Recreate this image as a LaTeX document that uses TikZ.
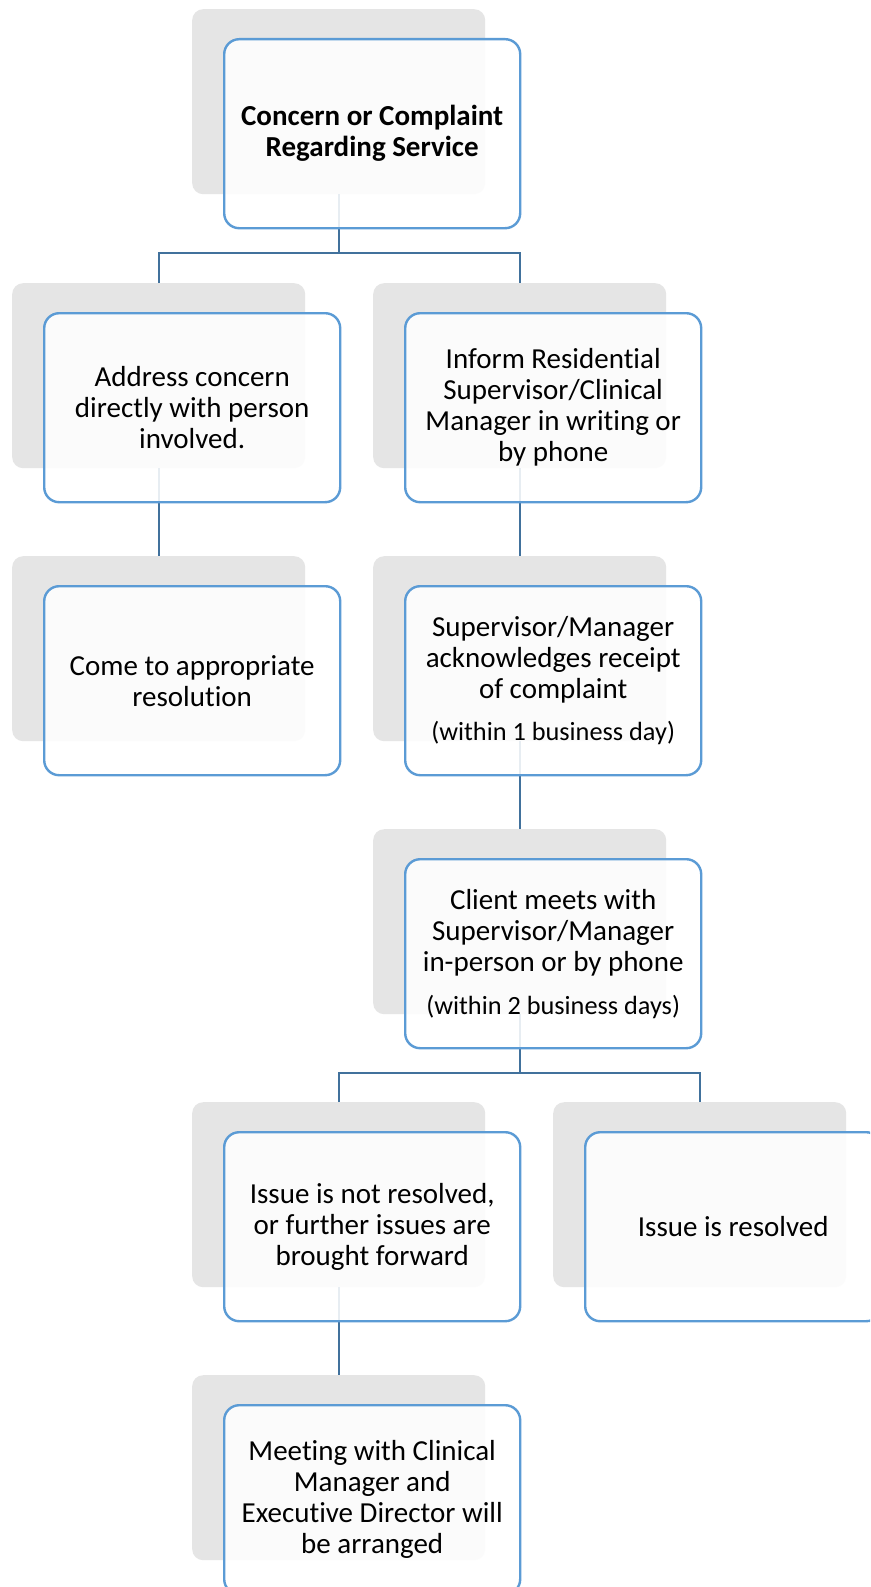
\documentclass[tikz,border=0pt]{standalone}
\usepackage{fontspec}
\setmainfont{Carlito}[Ligatures=NoCommon]
\definecolor{shadowgray}{HTML}{E5E5E5}
\definecolor{cardblue}{HTML}{5B9BD5}
\definecolor{connblue}{HTML}{41719C}
\tikzset{
  shadowbox/.style={fill=shadowgray, draw=none, rounded corners=11pt, minimum width=293pt, minimum height=185pt, anchor=north west, inner sep=0pt},
  card/.style={draw=cardblue, line width=2.4pt, fill=white, fill opacity=0.88, text opacity=1, rounded corners=15pt, minimum width=296pt, minimum height=189pt, anchor=north west, align=center, inner sep=0pt, font=\fontsize{29}{31}\selectfont},
  conn/.style={draw=connblue, line width=2.2pt},
}
\newcommand{\smalltxt}[1]{{\fontsize{26.3}{31}\selectfont #1}}
\begin{document}
\begin{tikzpicture}[x=1pt,y=-1pt]
\clip (0,0) rectangle (870,1587);
\fill[white] (0,0) rectangle (870,1587);
% shadows
\node[shadowbox] (s0)  at (192,9) {};
\node[shadowbox] (s1a) at (12,283) {};
\node[shadowbox] (s1c) at (373,283) {};
\node[shadowbox] (s2a) at (12,556) {};
\node[shadowbox] (s2c) at (373,556) {};
\node[shadowbox] (s3c) at (373,829) {};
\node[shadowbox] (s4b) at (192,1102) {};
\node[shadowbox] (s4d) at (553,1102) {};
\node[shadowbox] (s5b) at (192,1375) {};
% bus coordinates
\coordinate (b1) at (0,253);
\coordinate (b4) at (0,1073);
% connectors
\draw[conn] (s0.south) -- (s0.south |- b1);
\draw[conn] (s1a.north) -- (s1a.north |- b1) -- (s1c.north |- b1) -- (s1c.north);
\draw[conn] (s1a.south) -- (s2a.north);
\draw[conn] (s1c.south) -- (s2c.north);
\draw[conn] (s2c.south) -- (s3c.north);
\draw[conn] (s3c.south) -- (s3c.south |- b4);
\draw[conn] (s4b.north) -- (s4b.north |- b4) -- (s4d.north |- b4) -- (s4d.north);
\draw[conn] (s4b.south) -- (s5b.north);
% cards
\node[card] (c0)  at (223,38) {\bfseries Concern or Complaint\\\bfseries Regarding Service};
\node[card] (c1a) at (43,312) {Address concern\\directly with person\\involved.};
\node[card] (c1c) at (404,312) {Inform Residential\\Supervisor/Clinical\\Manager in writing or\\by phone};
\node[card] (c2a) at (43,585) {Come to appropriate\\resolution};
\node[card] (c2c) at (404,585) {Supervisor/Manager\\acknowledges receipt\\of complaint\\[11pt]\smalltxt{(within 1 business day)}};
\node[card] (c3c) at (404,858) {Client meets with\\Supervisor/Manager\\in-person or by phone\\[12pt]\smalltxt{(within 2 business days)}};
\node[card] (c4b) at (223,1131) {Issue is not resolved,\\or further issues are\\brought forward};
\node[card] (c4d) at (584,1131) {Issue is resolved};
\node[card] (c5b) at (223,1404) {Meeting with Clinical\\Manager and\\Executive Director will\\be arranged};
\end{tikzpicture}
\end{document}
